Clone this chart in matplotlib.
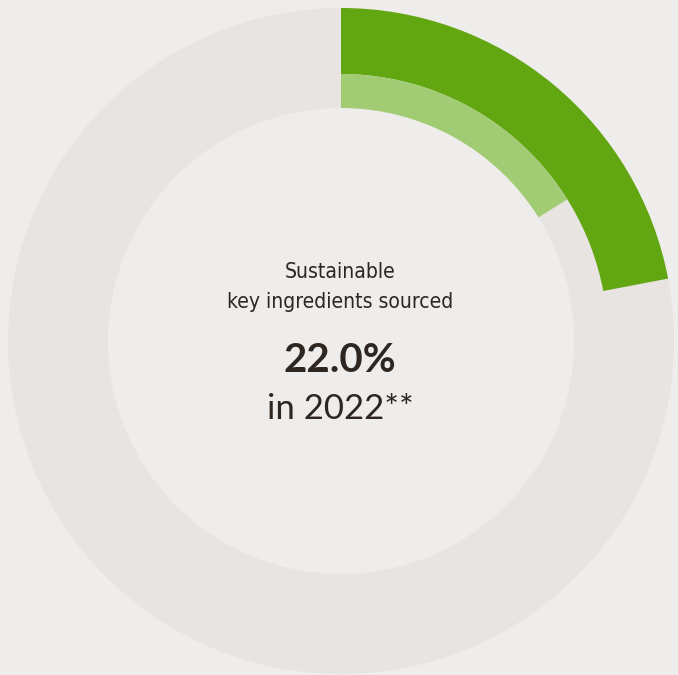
import matplotlib.pyplot as plt

# sourcing share, 2022 (outer) and prior year (inner)
share_2022 = 22.0
share_prev = 16.1
title_lines = ['Sustainable', 'key ingredients sourced']
year_label = 'in 2022**'

bg = '#efedeb'
ring_grey = '#e8e4e1'
dark_green = '#62a611'
light_green = '#a2cc74'
text_col = '#2e2621'

fig = plt.figure(figsize=(6.78, 6.75), dpi=100, facecolor=bg)
ax = fig.add_axes([0, 0, 1, 1])
ax.set_facecolor(bg)

c = (341, 334)

# base ring
ax.pie([1], radius=333, center=c, colors=[ring_grey],
       wedgeprops=dict(width=100, linewidth=0), frame=True)
# outer band: 2022 share
ax.pie([share_2022, 100 - share_2022], radius=333, center=c,
       colors=[dark_green, 'none'], startangle=90, counterclock=False,
       wedgeprops=dict(width=66, linewidth=0), frame=True)
# inner band: previous share
ax.pie([share_prev, 100 - share_prev], radius=267, center=c,
       colors=[light_green, 'none'], startangle=90, counterclock=False,
       wedgeprops=dict(width=34, linewidth=0), frame=True)

ax.set_xlim(0, 678)
ax.set_ylim(0, 675)
ax.set_aspect('equal')
ax.axis('off')

ax.text(340, 675 - 272, title_lines[0], ha='center', va='center',
        fontsize=15.1, family='DejaVu Sans', stretch='condensed',
        fontweight='light', color=text_col)
ax.text(340, 675 - 302, title_lines[1], ha='center', va='center',
        fontsize=15.1, family='DejaVu Sans', stretch='condensed',
        fontweight='light', color=text_col)
ax.text(340, 675 - 361, f'{share_2022:.1f}%', ha='center', va='center',
        fontsize=29, family='Lato', fontweight='bold', color=text_col)
ax.text(340, 675 - 409, year_label, ha='center', va='center',
        fontsize=25, family='Lato', color=text_col)

fig.savefig('out.png', dpi=100, facecolor=bg)
